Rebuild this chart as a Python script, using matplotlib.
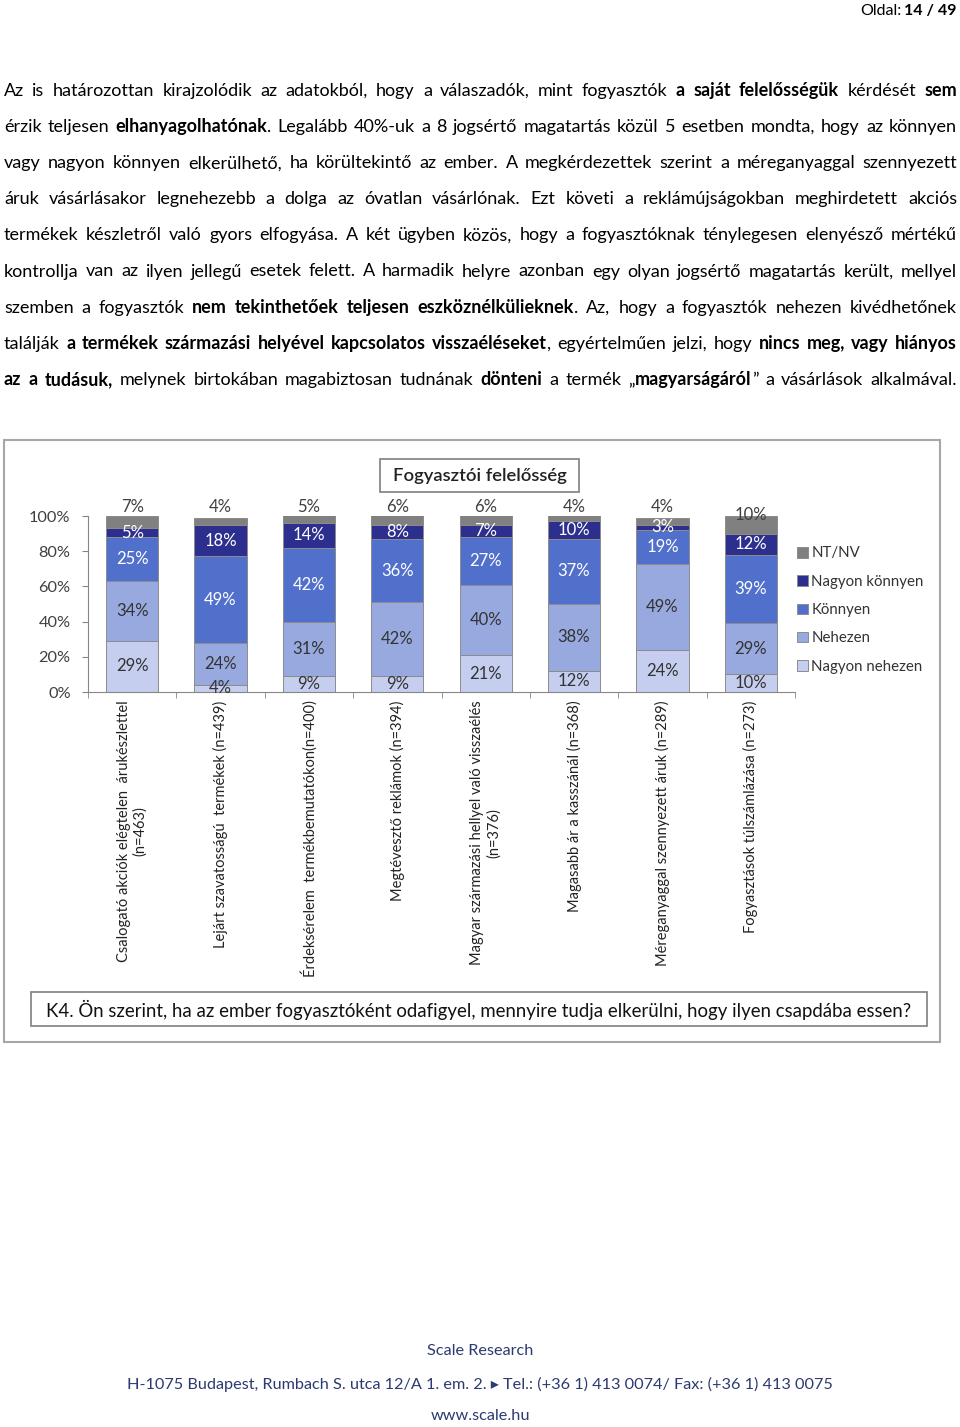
import matplotlib
matplotlib.use('Agg')
import matplotlib.pyplot as plt
import numpy as np
from matplotlib.patches import Rectangle

plt.rcParams['font.family'] = ['Lato', 'DejaVu Sans']

# chart data (bottom to top of each bar)
categories = [
    'Csalogató akciók elégtelen  árukészlettel\n(n=463)',
    'Lejárt szavatosságú  termékek (n=439)',
    'Érdeksérelem  termékbemutatókon(n=400)',
    'Megtévesztő reklámok (n=394)',
    'Magyar származási hellyel való visszaélés\n(n=376)',
    'Magasabb ár a kasszánál (n=368)',
    'Méreganyaggal szennyezett áruk (n=289)',
    'Fogyasztások túlszámlázása (n=273)',
]
series_names = ['Nagyon nehezen', 'Nehezen', 'Könnyen', 'Nagyon könnyen', 'NT/NV']
nagyon_nehezen = [29, 4, 9, 9, 21, 12, 24, 10]
nehezen = [34, 24, 31, 42, 40, 38, 49, 29]
konnyen = [25, 49, 42, 36, 27, 37, 19, 39]
nagyon_konnyen = [5, 18, 14, 8, 7, 10, 3, 12]
nt_nv = [7, 4, 5, 6, 6, 4, 4, 10]
y_ticks = [0, 20, 40, 60, 80, 100]

colors = ['#c6cef0', '#98a9df', '#5170cb', '#2c2f8e', '#808080']
label_colors = ['#333333', '#333333', 'white', 'white', '#404040']

chart_title = 'Fogyasztói felelősség'
question = 'K4. Ön szerint, ha az ember fogyasztóként odafigyel, mennyire tudja elkerülni, hogy ilyen csapdába essen?'

# body text, '*' toggles bold
paragraph = [
    'Az is határozottan kirajzolódik az adatokból, hogy a válaszadók, mint fogyasztók *a saját felelősségük* kérdését *sem*',
    'érzik teljesen *elhanyagolhatónak*. Legalább 40%-uk a 8 jogsértő magatartás közül 5 esetben mondta, hogy az könnyen',
    'vagy nagyon könnyen elkerülhető, ha körültekintő az ember.  A megkérdezettek szerint a méreganyaggal szennyezett',
    'áruk vásárlásakor legnehezebb a dolga az óvatlan vásárlónak. Ezt követi a reklámújságokban meghirdetett akciós',
    'termékek készletről való gyors elfogyása. A két ügyben közös, hogy a fogyasztóknak ténylegesen elenyésző mértékű',
    'kontrollja van az ilyen jellegű esetek felett. A harmadik helyre azonban egy olyan jogsértő magatartás került, mellyel',
    'szemben a fogyasztók *nem tekinthetőek teljesen eszköznélkülieknek*. Az, hogy a fogyasztók nehezen kivédhetőnek',
    'találják *a termékek származási helyével kapcsolatos visszaéléseket*, egyértelműen jelzi, hogy *nincs meg, vagy hiányos*',
    '*az a tudásuk,* melynek birtokában magabiztosan tudnának *dönteni* a termék „*magyarságáról*” a vásárlások alkalmával.',
]
footer = ['Scale Research',
          'H-1075 Budapest, Rumbach S. utca 12/A 1. em. 2. ▸ Tel.: (+36 1) 413 0074/ Fax: (+36 1) 413 0075',
          'www.scale.hu']

W, H = 960, 1427
fig = plt.figure(figsize=(W / 100, H / 100), dpi=100)
renderer = fig.canvas.get_renderer()

# page axes in pixel units
page = fig.add_axes([0, 0, 1, 1])
page.set_xlim(0, W)
page.set_ylim(H, 0)
page.axis('off')


def text_width(s, size, weight='normal'):
    t = page.text(0, 0, s, fontsize=size, fontweight=weight)
    w = t.get_window_extent(renderer).width
    t.remove()
    return w


def parse_line(s):
    words, cur, buf, bold = [], [], '', False
    for ch in s:
        if ch == '*':
            if buf:
                cur.append((buf, bold))
                buf = ''
            bold = not bold
        elif ch == ' ':
            if buf:
                cur.append((buf, bold))
                buf = ''
            if cur:
                words.append(cur)
                cur = []
        else:
            buf += ch
    if buf:
        cur.append((buf, bold))
    if cur:
        words.append(cur)
    return words


# header
hsize = 11.5
bw = text_width('14 / 49', hsize, 'bold')
page.text(957, 11, '14 / 49', fontsize=hsize, fontweight='bold', ha='right', va='center')
page.text(957 - bw - 3, 11, 'Oldal:', fontsize=hsize, ha='right', va='center')

# justified paragraph
psize = 13.0
left, right = 4, 957
for i, line in enumerate(paragraph):
    words = parse_line(line)
    widths = []
    for w in words:
        widths.append([text_width(p, psize, 'bold' if b else 'normal') for p, b in w])
    total = sum(sum(ws) for ws in widths)
    gap = (right - left - total) / (len(words) - 1)
    y = 96 + i * 36.1
    x = left
    for w, ws in zip(words, widths):
        for (p, b), pw in zip(w, ws):
            page.text(x, y, p, fontsize=psize, fontweight='bold' if b else 'normal',
                      ha='left', va='baseline', color='black')
            x += pw
        x += gap

# chart frame
page.add_patch(Rectangle((4, 440), 936, 602, fill=False, edgecolor='#a6a6a6', lw=1.5))
page.add_patch(Rectangle((380, 459), 199, 33, fill=False, edgecolor='#7f7f7f', lw=1.2))
page.text(479.5, 476, chart_title, fontsize=13.3, fontweight='semibold', ha='center', va='center',
          color='#222222')
page.add_patch(Rectangle((31, 992), 896, 34, fill=False, edgecolor='#7f7f7f', lw=1.2))
page.text(479, 1010, question, fontsize=13.4, ha='center', va='center', color='#111111')

# footer
fcolor = '#2b3a70'
page.text(480, 1351, footer[0], fontsize=11.7, ha='center', va='center', color=fcolor)
page.text(480, 1384, footer[1], fontsize=11.7, ha='center', va='center', color=fcolor)
page.text(480, 1416, footer[2], fontsize=11.7, ha='center', va='center', color=fcolor)

# stacked bars
ax = fig.add_axes([88 / W, 1 - 692 / H, (795 - 88) / W, 176 / H])
x = np.arange(len(categories))
series = [nagyon_nehezen, nehezen, konnyen, nagyon_konnyen, nt_nv]
bottom = np.zeros(len(categories))
handles = []
for k, (vals, col) in enumerate(zip(series, colors)):
    vals = np.array(vals, dtype=float)
    h = ax.bar(x, vals, 0.59, bottom=bottom, color=col, edgecolor='#8c8c8c', lw=0.7,
               label=series_names[k])
    handles.append(h)
    for xi, b, v in zip(x, bottom, vals):
        if k == 4:
            yy = 105 if v < 8 else 100.5
            ax.text(xi, yy, '%d%%' % v, ha='center', va='center', fontsize=12,
                    color=label_colors[k])
        else:
            ax.text(xi, b + v / 2, '%d%%' % v, ha='center', va='center', fontsize=12,
                    color=label_colors[k])
    bottom = bottom + vals

ax.set_xlim(-0.5, len(categories) - 0.5)
ax.set_ylim(0, 100)
ax.set_yticks(y_ticks)
ax.set_yticklabels(['%d%%' % t for t in y_ticks], fontsize=11.8, color='#404040')
ax.set_xticks(x)
ax.set_xticklabels(categories, rotation=90, fontsize=10.5, ha='center', va='top',
                   multialignment='center', color='#222222')
ax.set_xticks(np.arange(len(categories) + 1) - 0.5, minor=True)
ax.tick_params(axis='x', which='major', length=0, pad=6)
ax.tick_params(axis='x', which='minor', length=4.5, color='#868686')
ax.tick_params(axis='y', length=4.5, color='#868686', pad=8)
for s in ['top', 'right']:
    ax.spines[s].set_visible(False)
for s in ['left', 'bottom']:
    ax.spines[s].set_color('#868686')
ax.set_facecolor('none')

leg = ax.legend(handles[::-1], series_names[::-1], loc='center left',
                bbox_to_anchor=(797 / W, 1 - 610 / H), bbox_transform=fig.transFigure,
                frameon=False, fontsize=10.8, handlelength=0.7, handleheight=0.7,
                handletextpad=0.25, labelspacing=0.95, borderpad=0, borderaxespad=0)
for t in leg.get_texts():
    t.set_color('#333333')

fig.savefig('out.png', dpi=100)
